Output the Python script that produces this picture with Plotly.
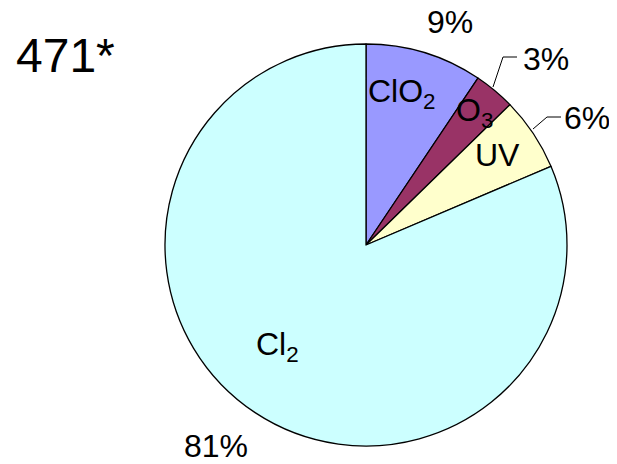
import plotly.graph_objects as go

# slice data, clockwise from 12 o'clock
labels = ["ClO<sub>2</sub>", "O<sub>3</sub>", "UV", "Cl<sub>2</sub>"]
values = [9.4, 3.3, 5.9, 81.4]
pct_text = ["9%", "3%", "6%", "81%"]
colors = ["#9999FF", "#993366", "#FFFFCC", "#CCFFFF"]
title_text = "471*"

W, H = 617, 464
OFF = 8  # page body margin shifts the figure by this much
FONT = "Liberation Sans, Arial, sans-serif"


def px(x, y):
    """screen pixel position -> paper coords (margins are zero)"""
    return (x - OFF) / W, 1 - (y - OFF) / H


x0, y1 = px(165, 44)
x1, y0 = px(567, 446)

fig = go.Figure(
    go.Pie(
        labels=labels,
        values=values,
        sort=False,
        direction="clockwise",
        rotation=0,
        textinfo="none",
        hoverinfo="label+percent",
        marker=dict(colors=colors, line=dict(color="black", width=1.3)),
        domain=dict(x=[x0, x1], y=[y0, y1]),
        showlegend=False,
    )
)

annots = []


def add_text(txt, x, y, size=32):
    ax, ay = px(x, y)
    annots.append(dict(text=txt, x=ax, y=ay, xref="paper", yref="paper",
                       xanchor="center", yanchor="middle", showarrow=False,
                       font=dict(family=FONT, size=size, color="black")))


add_text(title_text, 65, 56, size=48)
# labels inside slices
add_text(labels[0], 402, 94)
add_text(labels[1], 474, 112)
add_text(labels[2], 497, 155)
add_text(labels[3], 277, 346)
# percentages
add_text(pct_text[0], 450, 22)
add_text(pct_text[1], 546, 59)
add_text(pct_text[2], 587, 118)
add_text(pct_text[3], 216, 446)

shapes = []
for pts in ([(517, 57), (503, 57), (493, 87)], [(561, 117), (547, 117), (533, 129)]):
    path = "M " + " L ".join(f"{px(x, y)[0]},{px(x, y)[1]}" for x, y in pts)
    shapes.append(dict(type="path", path=path, xref="paper", yref="paper",
                       line=dict(color="black", width=1)))

fig.update_layout(
    width=W,
    height=H,
    margin=dict(l=0, r=0, t=0, b=0),
    paper_bgcolor="white",
    plot_bgcolor="white",
    annotations=annots,
    shapes=shapes,
)

fig.write_html("out.html")
